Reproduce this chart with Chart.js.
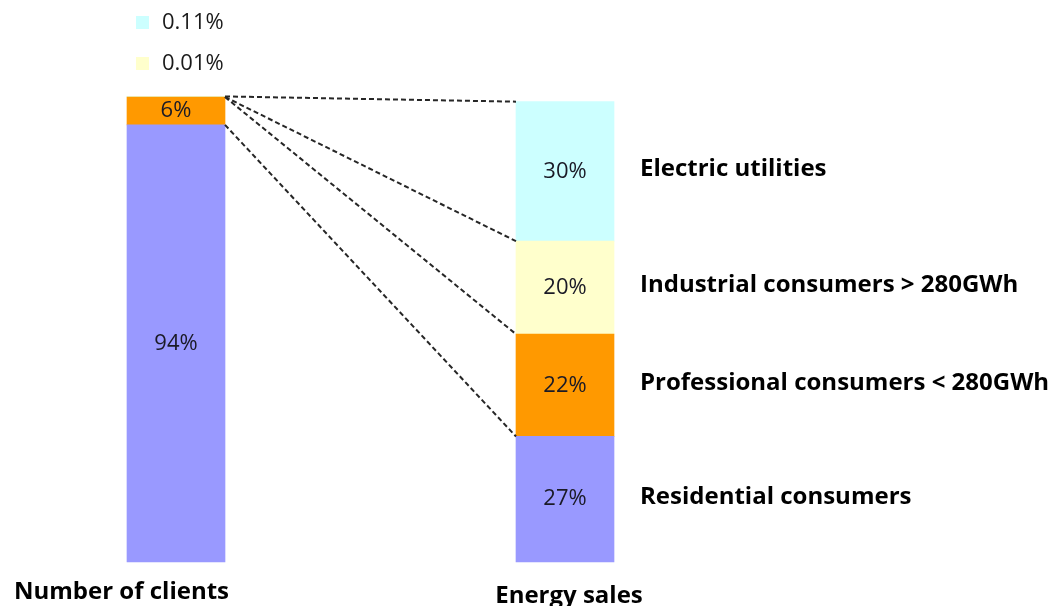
<!DOCTYPE html>
<html>
<head>
<meta charset="utf-8">
<title>Clients vs energy sales</title>
<script src="https://cdn.jsdelivr.net/npm/chart.js@4.4.1/dist/chart.umd.min.js"></script>
<style>
html,body{margin:0;padding:0;background:#fff}
#wrap{width:1064px;height:606px;position:relative}
</style>
</head>
<body>
<div id="wrap"><canvas id="salesChart"></canvas></div>
<script>
// data, stacked bottom -> top
const categories = ['Number of clients', 'Energy sales'];
const segmentNames = ['Residential consumers', 'Professional consumers < 280GWh', 'Industrial consumers > 280GWh', 'Electric utilities'];
const residential = [94, 27];
const professional = [6, 22];
const industrial = [0.01, 20];
const utilities = [0.11, 30];
const segmentColors = ['#9999ff', '#ff9900', '#ffffcc', '#ccffff'];

const FONT = '"Open Sans", "Noto Sans", sans-serif';
const pct = v => (v < 1 ? v.toFixed(2) : v) + '%';

const overlay = {
  id: 'overlay',
  afterDatasetsDraw(chart) {
    const ctx = chart.ctx;
    const area = chart.chartArea;
    const ds = chart.data.datasets;
    const bars = ds.map((d, i) => chart.getDatasetMeta(i).data.map(el => el.getProps(['x', 'y', 'base', 'width'], true)));
    ctx.save();

    // dashed connectors between matching segment tops
    ctx.setLineDash([5, 3]);
    ctx.lineWidth = 2;
    ctx.strokeStyle = '#262626';
    bars.forEach(b => {
      const l = b[0], r = b[1];
      ctx.beginPath();
      ctx.moveTo(l.x + l.width / 2, l.y);
      ctx.lineTo(r.x - r.width / 2, r.y);
      ctx.stroke();
    });
    ctx.setLineDash([]);

    // values inside segments
    ctx.fillStyle = '#1a1a26';
    ctx.font = '22px ' + FONT;
    ctx.textAlign = 'center';
    ctx.textBaseline = 'middle';
    ds.forEach((d, i) => d.data.forEach((v, j) => {
      if (v < 1) return;
      const b = bars[i][j];
      ctx.fillText(pct(v), b.x, (b.y + b.base) / 2);
    }));

    // tiny shares of the first bar shown as a little key above it
    const tiny = ds.filter(d => d.data[0] < 1).reverse();
    const lb = bars[0][0];
    const x0 = lb.x - lb.width / 2;
    ctx.textAlign = 'left';
    tiny.forEach((d, k) => {
      const y = area.top - 34 - 41 * (tiny.length - 1 - k);
      ctx.fillStyle = d.backgroundColor;
      ctx.fillRect(x0 + 9, y - 6, 13, 13);
      ctx.fillStyle = '#1a1a1a';
      ctx.fillText(pct(d.data[0]), x0 + 35, y + 1);
    });

    // segment names to the right of the second bar
    ctx.fillStyle = '#000';
    ctx.font = 'bold 24px ' + FONT;
    ds.forEach((d, i) => {
      const b = bars[i][1];
      ctx.fillText(d.label, b.x + b.width / 2 + 26, (b.y + b.base) / 2 - 2);
    });

    // category names under the bars
    ctx.textBaseline = 'alphabetic';
    const b0 = bars[0][0], b1 = bars[0][1];
    ctx.textAlign = 'right';
    ctx.fillText(categories[0], b0.x + b0.width / 2 + 4, area.bottom + 37);
    ctx.textAlign = 'center';
    ctx.fillText(categories[1], b1.x + 4, area.bottom + 41);

    ctx.restore();
  }
};

const series = [residential, professional, industrial, utilities];

new Chart(document.getElementById('salesChart'), {
  type: 'bar',
  data: {
    labels: categories,
    datasets: series.map((s, i) => ({
      label: segmentNames[i],
      data: s,
      backgroundColor: segmentColors[i],
      borderWidth: 0,
      barThickness: 98,
      clip: false
    }))
  },
  options: {
    responsive: true,
    maintainAspectRatio: false,
    animation: false,
    layout: { padding: { left: 176, right: 499, top: 97, bottom: 44 } },
    plugins: { legend: { display: false }, tooltip: { enabled: false } },
    scales: {
      x: { stacked: true, display: false, offset: false },
      y: { stacked: true, display: false, min: 0, max: 100 }
    }
  },
  plugins: [overlay]
});
</script>
</body>
</html>
